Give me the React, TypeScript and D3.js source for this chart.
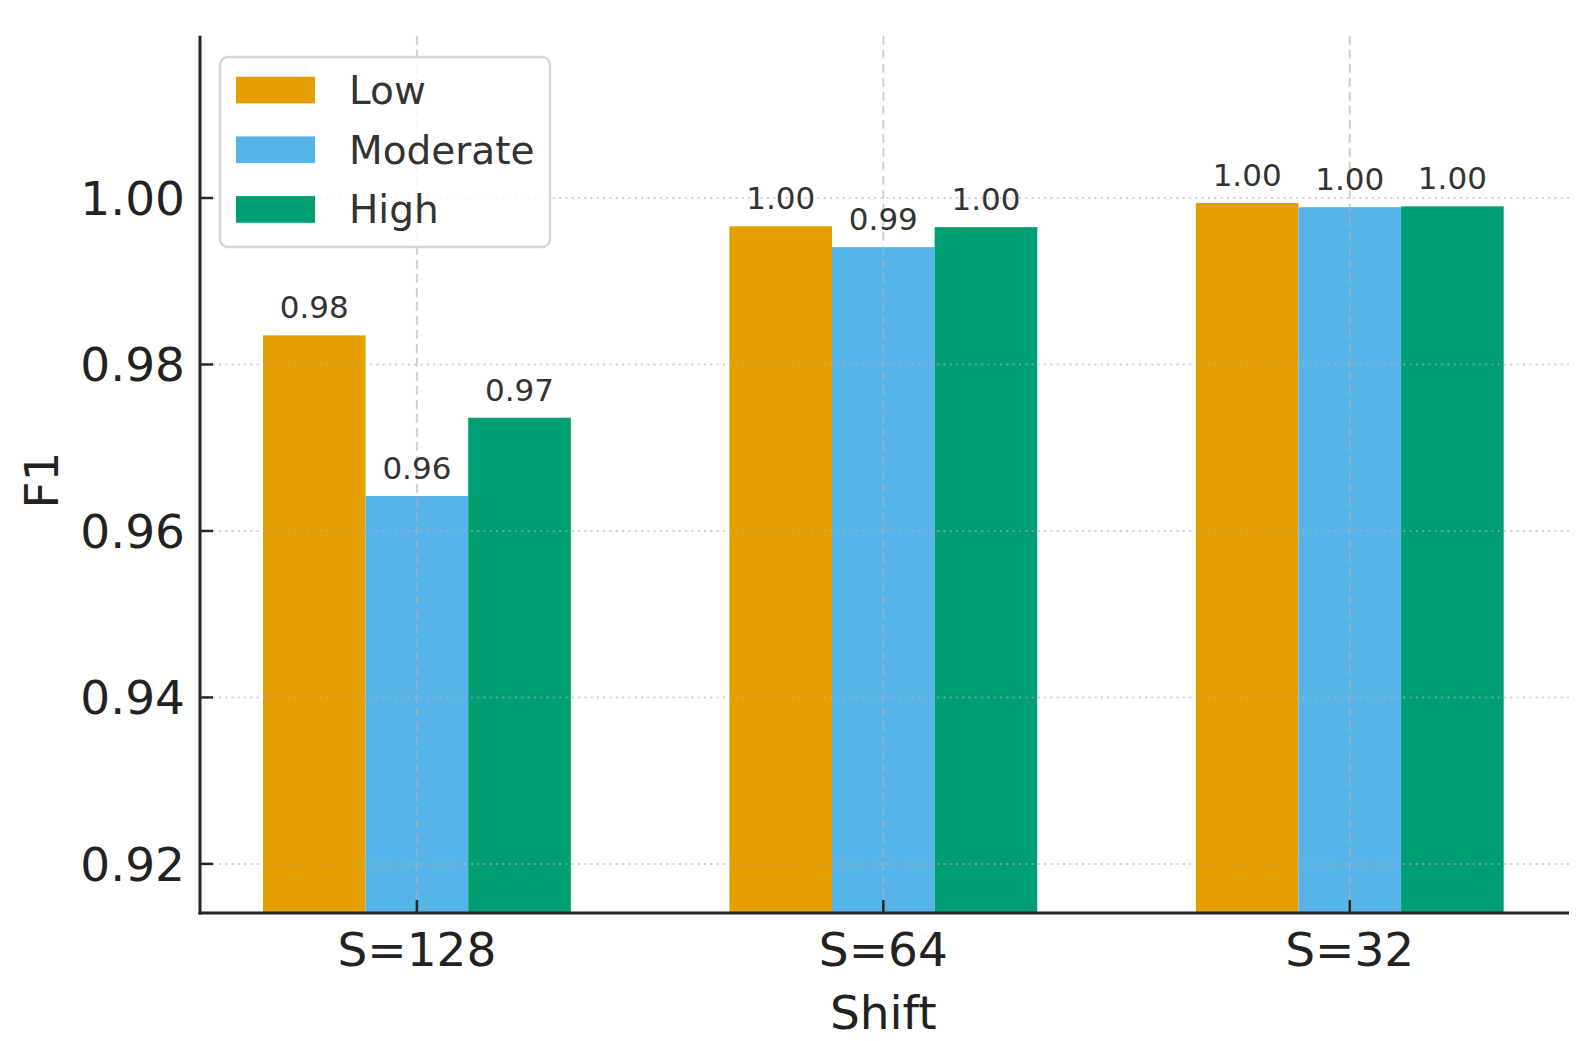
import React, { useEffect, useRef } from 'react';
import * as d3 from 'd3';

// data
const categories = ['S=128', 'S=64', 'S=32'];
const seriesNames = ['Low', 'Moderate', 'High'];
const lowValues = [0.9835, 0.9966, 0.9994];
const moderateValues = [0.9642, 0.9941, 0.9989];
const highValues = [0.9736, 0.9965, 0.999];
const yTicks = [0.92, 0.94, 0.96, 0.98, 1.0];
const colors = ['#E69F00', '#56B4E9', '#009E73'];

const W = 1582;
const H = 1041;
const FONT = '"DejaVu Sans", Verdana, sans-serif';

export default function App() {
  const ref = useRef<SVGSVGElement | null>(null);

  useEffect(() => {
    document.body.style.margin = '0';
    if (!ref.current) return;
    const svg = d3.select(ref.current);
    svg.selectAll('*').remove();

    const left = 200, right = 1569, top = 35.7, bottom = 913;
    const x = d3.scaleLinear().domain([-0.465, 2.47]).range([left, right]);
    const y = d3.scaleLinear().domain([0.9141, 1.0195]).range([bottom, top]);
    const barW = 0.22;
    const series = [lowValues, moderateValues, highValues];

    // bars
    const gBars = svg.append('g');
    series.forEach((vals, si) => {
      const off = (si - 1) * barW;
      gBars.selectAll(null)
        .data(vals)
        .enter().append('rect')
        .attr('x', (_d, i) => x(i + off - barW / 2))
        .attr('width', x(barW) - x(0))
        .attr('y', d => y(d))
        .attr('height', d => bottom - y(d))
        .attr('fill', colors[si]);
    });

    // grid on top of bars
    const gGrid = svg.append('g');
    gGrid.selectAll(null)
      .data(yTicks)
      .enter().append('line')
      .attr('x1', left).attr('x2', right)
      .attr('y1', d => y(d)).attr('y2', d => y(d))
      .attr('stroke', '#b0b0b0')
      .attr('stroke-opacity', 0.6)
      .attr('stroke-width', 2)
      .attr('stroke-dasharray', '2,4.3');
    gGrid.selectAll(null)
      .data(categories)
      .enter().append('line')
      .attr('x1', (_d, i) => x(i)).attr('x2', (_d, i) => x(i))
      .attr('y1', top).attr('y2', bottom)
      .attr('stroke', '#b0b0b0')
      .attr('stroke-opacity', 0.6)
      .attr('stroke-width', 2)
      .attr('stroke-dasharray', '9,5');

    // value labels
    const gLab = svg.append('g')
      .style('font-family', FONT)
      .style('font-size', '31px')
      .attr('fill', '#333');
    series.forEach((vals, si) => {
      const off = (si - 1) * barW;
      gLab.selectAll(null)
        .data(vals)
        .enter().append('text')
        .attr('x', (_d, i) => x(i + off))
        .attr('y', d => y(d) - 17)
        .attr('text-anchor', 'middle')
        .text(d => d.toFixed(2));
    });

    // spines
    const ink = '#262626';
    svg.append('line').attr('x1', left).attr('x2', left).attr('y1', top).attr('y2', bottom + 1.5)
      .attr('stroke', ink).attr('stroke-width', 3);
    svg.append('line').attr('x1', left - 1.5).attr('x2', right).attr('y1', bottom).attr('y2', bottom)
      .attr('stroke', ink).attr('stroke-width', 3);

    // y ticks (inward)
    const gy = svg.append('g').style('font-family', FONT).style('font-size', '47px').attr('fill', '#222');
    yTicks.forEach(t => {
      gy.append('line').attr('x1', left).attr('x2', left + 13).attr('y1', y(t)).attr('y2', y(t))
        .attr('stroke', ink).attr('stroke-width', 2.5);
      gy.append('text').attr('x', 185).attr('y', y(t) + 17)
        .attr('text-anchor', 'end').text(t.toFixed(2));
    });

    // x ticks (inward)
    const gx = svg.append('g').style('font-family', FONT).style('font-size', '47px').attr('fill', '#222');
    categories.forEach((c, i) => {
      gx.append('line').attr('x1', x(i)).attr('x2', x(i)).attr('y1', bottom).attr('y2', bottom - 13)
        .attr('stroke', ink).attr('stroke-width', 2.5);
      gx.append('text').attr('x', x(i)).attr('y', 966).attr('text-anchor', 'middle').text(c);
    });

    // axis titles
    svg.append('text').attr('x', x(1)).attr('y', 1029).attr('text-anchor', 'middle')
      .style('font-family', FONT).style('font-size', '47px').attr('fill', '#222').text('Shift');
    svg.append('text').attr('transform', 'translate(58,480) rotate(-90)').attr('text-anchor', 'middle')
      .style('font-family', FONT).style('font-size', '47px').attr('fill', '#222').text('F1');

    // legend
    const lg = svg.append('g');
    lg.append('rect').attr('x', 220).attr('y', 57).attr('width', 330).attr('height', 190)
      .attr('rx', 8).attr('fill', 'white').attr('fill-opacity', 0.8)
      .attr('stroke', '#d6d6d6').attr('stroke-width', 2.5);
    seriesNames.forEach((name, i) => {
      const cy = 90 + i * 59.7;
      lg.append('rect').attr('x', 236).attr('y', cy - 13.3).attr('width', 79).attr('height', 26.7)
        .attr('fill', colors[i]);
      lg.append('text').attr('x', 349).attr('y', cy + 14).attr('fill', '#333')
        .style('font-family', FONT).style('font-size', '39px').text(name);
    });
  }, []);

  return <svg ref={ref} width={W} height={H} style={{ display: 'block', background: 'white' }} />;
}
